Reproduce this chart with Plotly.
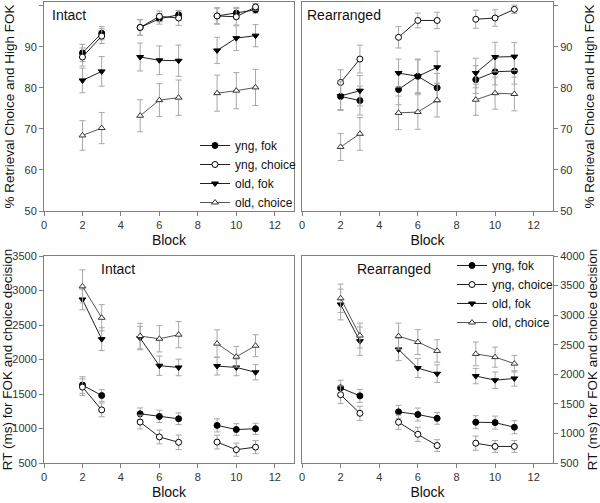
import plotly.graph_objects as go

blocks = [2, 3, 5, 6, 7, 9, 10, 11]
series_names = ["yng, fok", "yng, choice", "old, fok", "old, choice"]

# Top: % Retrieval Choice and High FOK
intact_pct = {
    "yng, fok":    [88.5, 93.3, 94.7, 96.8, 97.8, 97.5, 98.2, 99.0],
    "yng, choice": [87.5, 92.6, 94.7, 97.4, 97.0, 97.5, 97.3, 99.7],
    "old, fok":    [81.8, 84.0, 87.5, 86.7, 86.6, 89.1, 92.1, 92.7],
    "old, choice": [68.4, 70.2, 73.2, 77.0, 77.6, 78.7, 79.3, 80.1],
}
intact_pct_err = {
    "yng, fok":    [2.1, 1.6, 1.9, 1.3, 1.0, 1.9, 1.4, 0.8],
    "yng, choice": [2.2, 1.8, 1.9, 1.3, 1.8, 2.0, 2.0, 0.8],
    "old, fok":    [3.0, 3.6, 3.4, 3.5, 3.8, 3.2, 3.0, 2.7],
    "old, choice": [3.6, 3.8, 3.9, 4.0, 4.3, 4.4, 4.4, 4.4],
}
rearr_pct = {
    "yng, fok":    [77.9, 76.9, 79.6, 82.8, 80.0, 82.0, 83.9, 84.1],
    "yng, choice": [81.3, 87.0, 92.3, 96.4, 96.4, 96.7, 97.0, 99.1],
    "old, fok":    [78.0, 79.3, 83.6, 82.8, 85.0, 83.6, 87.5, 87.6],
    "old, choice": [65.6, 68.8, 73.9, 74.1, 77.0, 77.1, 78.7, 78.5],
}
rearr_pct_err = {
    "yng, fok":    [3.2, 3.5, 3.7, 4.0, 3.5, 3.4, 3.2, 3.2],
    "yng, choice": [3.1, 3.4, 2.6, 1.8, 2.0, 2.2, 2.0, 1.0],
    "old, fok":    [3.5, 3.7, 3.4, 4.2, 3.9, 3.6, 3.6, 3.4],
    "old, choice": [3.3, 4.0, 4.1, 4.2, 4.1, 3.8, 3.9, 4.1],
}

# Bottom: RT (ms)
intact_rt = {
    "yng, fok":    [1630, 1478, 1213, 1175, 1141, 1045, 985, 996],
    "yng, choice": [1600, 1270, 1093, 878, 800, 803, 693, 730],
    "old, fok":    [2870, 2295, 2310, 1910, 1885, 1905, 1885, 1815],
    "old, choice": [3060, 2605, 2340, 2300, 2360, 2230, 2040, 2200],
}
intact_rt_err = {
    "yng, fok":    [120, 85, 85, 90, 85, 95, 85, 80],
    "yng, choice": [120, 100, 100, 100, 105, 100, 95, 95],
    "old, fok":    [150, 165, 170, 140, 120, 130, 120, 110],
    "old, choice": [240, 190, 185, 190, 190, 200, 150, 160],
}
rearr_rt = {
    "yng, fok":    [1770, 1635, 1365, 1320, 1255, 1190, 1183, 1105],
    "yng, choice": [1655, 1340, 1190, 985, 795, 835, 780, 780],
    "old, fok":    [3180, 2560, 2420, 2105, 2010, 1970, 1900, 1930],
    "old, choice": [3285, 2655, 2645, 2545, 2395, 2345, 2290, 2180],
}
rearr_rt_err = {
    "yng, fok":    [130, 110, 110, 110, 100, 110, 110, 110],
    "yng, choice": [150, 120, 120, 120, 100, 120, 100, 100],
    "old, fok":    [260, 240, 190, 160, 150, 130, 140, 130],
    "old, choice": [240, 210, 220, 210, 190, 200, 170, 140],
}

x_ticks = [0, 2, 4, 6, 8, 10, 12]
pct_ticks = [50, 60, 70, 80, 90, 100]
rt_left_ticks = [500, 1000, 1500, 2000, 2500, 3000, 3500]
rt_right_ticks = [500, 1000, 1500, 2000, 2500, 3000, 3500, 4000]

styles = {
    "yng, fok":    dict(symbol="circle", color="black", line=dict(color="black", width=1), size=6),
    "yng, choice": dict(symbol="circle", color="white", line=dict(color="black", width=1), size=6),
    "old, fok":    dict(symbol="triangle-down", color="black", line=dict(color="black", width=1), size=6),
    "old, choice": dict(symbol="triangle-up", color="white", line=dict(color="#333333", width=1), size=6),
}
line_colors = {"yng, fok": "#222222", "yng, choice": "#222222",
               "old, fok": "#222222", "old, choice": "#555555"}


def with_gaps(xs, ys):
    ox, oy = [], []
    for i, (a, b) in enumerate(zip(xs, ys)):
        if i > 0 and a - xs[i - 1] > 1:
            ox.append(None)
            oy.append(None)
        ox.append(a)
        oy.append(b)
    return ox, oy


def err_with_gaps(xs, es):
    return with_gaps(xs, es)[1]


fig = go.Figure()

panels = [
    (intact_pct, intact_pct_err, "x", "y", "legend", True),
    (rearr_pct, rearr_pct_err, "x2", "y2", None, False),
    (intact_rt, intact_rt_err, "x3", "y3", None, False),
    (rearr_rt, rearr_rt_err, "x4", "y4", "legend2", True),
]

for data, errs, xa, ya, leg, show in panels:
    for name in series_names:
        gx, gy = with_gaps(blocks, data[name])
        ge = err_with_gaps(blocks, errs[name])
        kw = {}
        if leg:
            kw["legend"] = leg
        fig.add_trace(go.Scatter(
            x=gx, y=gy, name=name, mode="lines+markers",
            xaxis=xa, yaxis=ya, connectgaps=False, showlegend=show,
            line=dict(color=line_colors[name], width=1),
            marker=styles[name],
            error_y=dict(type="data", array=ge, visible=True,
                         color="#a8a8a8", thickness=1, width=3),
            **kw,
        ))

H = 503.0
W = 600.0
top_dom = [1 - 211 / H, 1 - 2 / H]
bot_dom = [1 - 463 / H, 1 - 256 / H]
left_dom = [44 / W, 294 / W]
right_dom = [302 / W, 553 / W]

axis_line = "#808080"
tick_font = dict(size=11, color="#333333")
title_font = dict(size=14, color="#111111")
ytitle_font = dict(size=13.5, color="#111111")


def xax(dom, anchor):
    return dict(domain=dom, anchor=anchor, range=[0, 13], tickvals=x_ticks,
                showgrid=False, zeroline=False, showline=True, mirror=True,
                linecolor=axis_line, linewidth=1, ticks="outside", ticklen=4,
                tickcolor=axis_line, tickfont=tick_font,
                title=dict(text="Block", font=title_font, standoff=4),
                automargin=False)


def yax(dom, anchor, rng, ticks, title, side):
    standoff = 6 if side == "left" else 13
    return dict(domain=dom, anchor=anchor, range=rng, tickvals=ticks, side=side,
                showgrid=False, zeroline=False, showline=True, mirror=True,
                linecolor=axis_line, linewidth=1, ticks="outside", ticklen=4,
                tickcolor=axis_line, tickfont=tick_font,
                title=dict(text=title, font=ytitle_font, standoff=standoff),
                automargin=False)


pct_title = "% Retrieval Choice and High FOK"
rt_title = "RT (ms) for FOK and choice decision"

fig.update_layout(
    width=600, height=503,
    margin=dict(l=0, r=0, t=0, b=0),
    paper_bgcolor="white", plot_bgcolor="white",
    font=dict(family="Liberation Sans, Arial, sans-serif", color="#222222"),
    xaxis=xax(left_dom, "y"),
    yaxis=yax(top_dom, "x", [50, 100.9], pct_ticks, pct_title, "left"),
    xaxis2=xax(right_dom, "y2"),
    yaxis2=yax(top_dom, "x2", [50, 100.9], pct_ticks, pct_title, "right"),
    xaxis3=xax(left_dom, "y3"),
    yaxis3=yax(bot_dom, "x3", [500, 3500], rt_left_ticks, rt_title, "left"),
    xaxis4=xax(right_dom, "y4"),
    yaxis4=yax(bot_dom, "x4", [500, 4000], rt_right_ticks, rt_title, "right"),
    legend=dict(x=195 / W, xanchor="left", y=1 - 217 / H, yanchor="bottom",
                bgcolor="rgba(0,0,0,0)", font=dict(size=12, color="#111111"),
                tracegroupgap=0),
    legend2=dict(x=452 / W, xanchor="left", y=1 - 251 / H, yanchor="top",
                 bgcolor="rgba(0,0,0,0)", font=dict(size=12, color="#111111"),
                 tracegroupgap=0),
    annotations=[
        dict(text="Intact", xref="paper", yref="paper", x=50 / W, y=1 - 5 / H,
             xanchor="left", yanchor="top", showarrow=False,
             font=dict(size=14, color="#111111")),
        dict(text="Rearranged", xref="paper", yref="paper", x=305 / W, y=1 - 5 / H,
             xanchor="left", yanchor="top", showarrow=False,
             font=dict(size=14, color="#111111")),
        dict(text="Intact", xref="paper", yref="paper", x=99 / W, y=1 - 259 / H,
             xanchor="left", yanchor="top", showarrow=False,
             font=dict(size=14, color="#111111")),
        dict(text="Rearranged", xref="paper", yref="paper", x=355 / W, y=1 - 259 / H,
             xanchor="left", yanchor="top", showarrow=False,
             font=dict(size=14, color="#111111")),
    ],
)

fig.write_html("out.html", config={"displayModeBar": False},
               post_script="document.body.style.margin='0';document.body.style.padding='0';")
